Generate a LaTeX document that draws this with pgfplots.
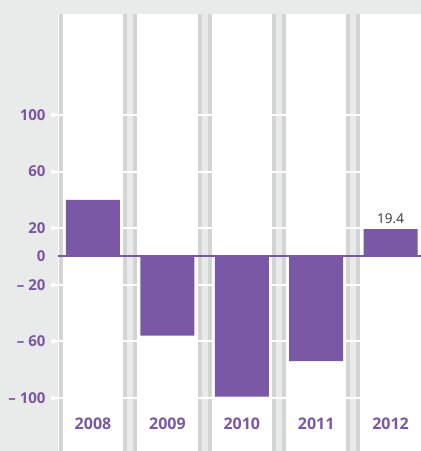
\documentclass[border=0pt]{standalone}
\usepackage{fontspec}
\setmainfont{Open Sans}
\usepackage{pgfplots}
\pgfplotsset{compat=1.18}
\definecolor{pp}{HTML}{7A58A5}
\definecolor{bg}{HTML}{E9EAEA}
\definecolor{dv}{HTML}{D3D4D4}
\definecolor{lbl}{HTML}{333333}
\begin{document}
\begin{tikzpicture}
\fill[bg] (0,0) rectangle (421pt,451pt);
\begin{axis}[
  at={(58.5pt,0pt)}, anchor=south west,
  scale only axis, width=362.5pt, height=437pt,
  xmin=-0.4637, xmax=4.4086, ymin=-137.5, ymax=171.4,
  clip=false,
  axis line style={draw=none},
  axis background/.style={fill=white},
  xtick={0,1,2,3,4},
  xticklabels={2008,2009,2010,2011,2012},
  xtick style={draw=none},
  xticklabel style={anchor=base, yshift=21.5pt, font=\fontsize{16}{16}\selectfont\bfseries, text=pp},
  ytick={-100,-60,-20,20,60,100},
  yticklabels={{– 100},{– 60},{– 20},{20},{60},{100}},
  ytick align=outside,
  major tick length=5.5pt,
  ytick style={white, line width=2pt},
  yticklabel style={anchor=east, inner sep=0pt, xshift=-7.3pt, font=\fontsize{15}{15}\selectfont\bfseries, text=pp},
  extra y ticks={0},
  extra y tick labels={0},
  extra y tick style={ytick style={draw=none}},
]
% column dividers
\pgfplotsinvokeforeach{0.5,1.5,2.5,3.5}{
  \draw[dv, line width=14pt] (axis cs:#1,-137.5) -- (axis cs:#1,171.4);
  \draw[bg, line width=6pt] (axis cs:#1,-137.5) -- (axis cs:#1,171.4);
}
\draw[dv, line width=4pt] (axis cs:-0.4368,-137.5) -- (axis cs:-0.4368,171.4);
% white grid lines
\pgfplotsinvokeforeach{-100,-60,-20,20,60,100}{
  \draw[white, line width=2pt] (axis cs:-0.4637,#1) -- (axis cs:4.4086,#1);
}
\addplot[only marks, mark=*, mark size=2pt, white] coordinates {(-0.5376,-100) (-0.5376,-60) (-0.5376,-20) (-0.5376,20) (-0.5376,60) (-0.5376,100)};
\addplot[ybar, bar width=54pt, bar shift=0pt, fill=pp, draw=none] coordinates {(0,40) (1,-56) (2,-99) (3,-74) (4,19.4)};
\draw[pp, line width=2pt] (axis cs:-0.4637,0) -- (axis cs:4.4086,0);
\addplot[draw=none, mark=none, nodes near coords, point meta=explicit symbolic,
  nodes near coords style={anchor=base, yshift=6pt, inner sep=0pt, font=\fontsize{13.5}{13.5}\selectfont, text=lbl}]
  coordinates {(4,19.4) [19.4]};
\end{axis}
\pgfresetboundingbox
\useasboundingbox (0,0) rectangle (421pt,451pt);
\end{tikzpicture}
\end{document}
